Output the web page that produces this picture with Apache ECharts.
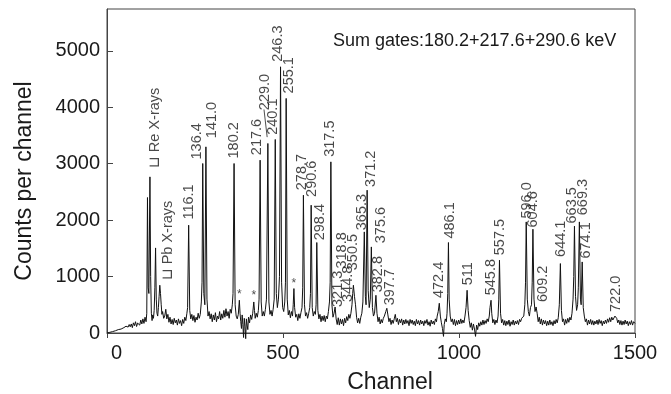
<!DOCTYPE html>
<html>
<head>
<meta charset="utf-8">
<script src="https://cdn.jsdelivr.net/npm/echarts@6/dist/echarts.min.js"></script>
<style>
  html, body { margin: 0; padding: 0; background: #fff; }
  #chart { width: 671px; height: 394px; }
</style>
</head>
<body>
<div id="chart"></div>
<script>
// spectrum: [channel, counts]
const spectrum = [
  [0,0],[4,5],[8,12],[12,8],[16,25],[20,20],[24,40],[28,35],[32,60],[36,45],[40,70],[44,55],[48,95],[51,70],
  [54,120],[57,85],[60,105],[63,150],[66,110],[69,160],[72,95],[75,180],[78,130],[81,200],[84,115],[87,175],
  [90,210],[93,140],[96,230],[99,160],[102,250],[105,170],[108,280],[111,200],
  [113,350],[115,2400],[117,800],[119,700],[122,2766],[124,1000],[126,350],[128,220],[130,320],[132,260],
  [134,400],[136,800],[138,1507],[140,600],[142,350],[144,300],[146,450],[148,650],[150,846],[152,700],[154,500],[156,330],
  [158,380],[161,260],[164,300],[167,420],[170,250],[173,330],[176,190],[179,280],[182,160],[185,240],[188,150],
  [191,260],[194,180],[197,230],[200,140],[203,250],[206,170],[209,220],[212,130],[215,240],[218,170],[221,280],[224,220],[227,350],
  [229,450],[232,1910],[235,400],[238,250],[241,330],[244,220],[247,310],[250,190],[253,280],[256,230],[259,350],[262,260],[265,330],[268,550],
  [270,900],[272,3003],[275,700],[278,500],[281,3298],[284,600],[287,300],[290,380],[293,250],[296,340],[299,200],[302,320],
  [305,230],[308,360],[311,200],[314,300],[317,250],[320,380],[323,230],[326,340],[329,260],[332,400],[335,280],[338,430],
  [341,300],[344,380],[347,260],[350,420],[353,350],[356,500],
  [358,700],[361,3003],[364,500],[367,300],[370,250],
  [373,330],[376,580],[378,350],[380,200],[382,80],[384,320],[386,150],[388,-80],[390,260],[392,120],[394,-100],[396,250],
  [398,140],[400,60],[402,280],[405,180],[408,320],[411,240],
  [414,350],[417,550],[419,400],[421,260],[424,350],[427,280],[430,400],
  [432,600],[435,3062],[438,550],[441,300],[444,380],[447,300],[450,420],[453,600],
  [457,3358],[460,550],[463,330],[466,400],[469,300],[472,420],[475,600],
  [478,3429],[481,700],[484,450],[487,600],
  [490,1000],[493,4716],[496,900],[499,450],[502,380],[505,550],
  [507,900],[509,4156],[512,600],[515,320],[518,400],[521,270],[524,380],[527,300],[529,500],
  [531,787],[533,450],[536,280],[539,330],[542,220],[545,340],[548,260],[551,360],[554,450],
  [556,800],[558,2441],[561,500],[564,300],[567,360],[570,260],[573,350],[576,450],[578,700],
  [580,2264],[583,450],[586,300],[589,380],[592,330],[594,500],
  [596,1603],[599,400],[602,250],[605,330],[608,200],[611,300],[614,220],[617,310],[620,200],[623,300],[626,250],[629,380],[632,550],[634,900],
  [636,3032],[639,500],[642,280],[645,350],
  [648,460],[651,250],[654,150],[657,270],[660,140],[663,250],[666,160],[669,240],[672,130],[675,260],[678,180],[681,290],
  [684,220],[687,330],[690,260],[693,350],[696,500],
  [698,700],[700,846],[703,650],[706,500],[709,280],[712,180],[715,260],[718,170],[721,280],[724,350],
  [727,550],[731,1791],[734,650],[736,500],
  [739,2530],[742,750],[745,450],[748,600],
  [751,1525],[754,450],[757,300],[760,350],
  [764,668],[767,350],[770,200],[773,280],[776,160],[779,240],[782,180],[785,260],[788,300],
  [792,380],[795,438],[798,320],[801,200],[804,260],[807,150],[810,230],[813,170],[816,250],[819,330],[822,200],[825,260],
  [828,150],[831,240],[834,180],[837,250],[840,140],[843,230],[846,160],[849,240],[852,170],[855,220],[858,130],[861,240],
  [864,170],[867,230],[870,150],[873,210],[876,130],[879,240],[882,160],[885,220],[888,140],[891,230],[894,160],[897,210],
  [900,130],[903,220],[906,170],[909,240],[912,140],[915,200],[918,120],[921,230],[924,160],[927,210],[930,150],[933,250],[936,200],
  [938,300],[941,380],[944,527],[947,300],[950,180],[953,80],[956,-60],[958,150],[961,250],[964,200],
  [966,350],[968,700],[970,1603],[972,600],[975,300],[978,200],[981,250],[984,150],[987,240],[990,130],[993,220],[996,150],
  [999,230],[1002,160],[1005,250],[1008,170],[1011,230],[1014,180],[1017,300],
  [1020,450],[1023,757],[1026,400],[1029,220],[1032,100],[1035,180],[1038,50],[1041,160],[1044,70],[1047,-60],[1050,140],
  [1053,60],[1056,180],[1059,120],[1062,200],[1065,140],[1068,230],[1071,150],[1074,220],[1077,170],[1080,250],[1083,200],
  [1086,300],[1088,450],[1091,580],[1093,350],[1096,180],[1099,240],[1102,150],[1105,230],[1108,180],[1111,300],
  [1113,600],[1115,1289],[1118,350],[1121,180],[1124,240],[1127,140],[1130,220],[1133,130],[1136,210],[1139,150],[1142,230],
  [1145,120],[1148,200],[1151,150],[1154,230],[1157,140],[1160,210],[1163,160],[1166,220],[1169,150],[1172,240],[1175,200],
  [1178,260],[1181,230],[1184,300],[1187,500],
  [1189,900],[1191,1968],[1194,600],[1197,380],[1200,300],[1203,450],[1206,500],[1208,900],
  [1210,1839],[1213,600],[1216,380],
  [1219,461],[1222,350],[1225,200],[1228,280],[1231,160],[1234,250],[1237,140],[1240,230],[1243,160],[1246,220],[1249,130],
  [1252,210],[1255,140],[1258,230],[1261,150],[1264,200],[1267,130],[1270,220],[1273,160],[1276,240],[1279,180],[1282,270],[1285,500],
  [1288,1230],[1291,400],[1294,200],[1297,250],[1300,140],[1303,240],[1306,170],[1309,260],[1312,190],[1315,280],[1318,230],
  [1321,350],[1324,600],
  [1326,1000],[1328,1892],[1331,650],[1334,400],[1337,500],[1339,800],
  [1342,1968],[1345,600],[1347,500],
  [1350,1259],[1353,450],[1356,300],[1359,200],[1362,250],[1365,140],[1368,230],[1371,160],[1374,240],[1377,150],[1380,220],
  [1383,140],[1386,210],[1389,160],[1392,230],[1395,150],[1398,240],[1401,170],[1404,220],[1407,130],[1410,210],[1413,160],
  [1416,230],[1419,170],[1422,250],[1425,190],[1428,270],[1431,200],[1434,280],[1437,230],[1440,260],
  [1443,300],[1445,330],[1448,260],[1451,180],[1454,230],[1457,150],[1460,220],[1463,140],[1466,210],[1469,150],[1472,230],
  [1475,160],[1478,210],[1481,130],[1484,200],[1487,150],[1490,220],[1493,140],[1496,200],[1500,170]
];

// peak annotations: text start point (channel, counts)
const peakLabels = [
  '\u2294 Re X-rays', '\u2294 Pb X-rays', '116.1', '136.4', '141.0', '180.2', '217.6', '229.0',
  '240.1', '246.3', '255.1', '278.7', '290.6', '298.4', '317.5', '318.8', '321.3', '344.8',
  '350.5', '365.3', '371.2', '375.6', '382.8', '397.7', '472.4', '486.1', '511', '545.8',
  '557.5', '596.0', '604.6', '609.2', '644.1', '663.5', '669.3', '674.1', '722.0'
];
const peakLabelChannel = [
  136, 174, 232, 255, 298, 362, 426, 450,
  473, 487, 518, 555, 582, 604, 634, 667, 655, 686,
  700, 724, 750, 777, 771, 805, 944, 974, 1025, 1091,
  1117, 1193, 1211, 1238, 1290, 1322, 1353, 1362, 1447
];
const peakLabelCounts = [
  2920, 932, 2010, 3074, 3452, 3092, 3151, 3948,
  3511, 4805, 4245, 2530, 2411, 1643, 3121, 1142, 461, 550,
  1112, 1821, 2588, 1590, 721, 491, 620, 1674, 846, 668,
  1378, 2028, 1869, 550, 1348, 1940, 2087, 1319, 372
];
const starChannel = [376, 417, 531];
const starCounts = [681, 669, 875];
const leader229 = [[446, 3960], [455, 3470]];

const font = 'Liberation Sans, Arial, Helvetica, sans-serif';
const ink = '#1a1a1a';

const chart = echarts.init(document.getElementById('chart'));
const option = {
  animation: false,
  backgroundColor: '#fff',
  grid: {
    left: 107, right: 36, top: 9, bottom: 61,
    show: true, borderColor: '#444', borderWidth: 1,
  },
  xAxis: {
    type: 'value',
    min: 0,
    max: 1500,
    interval: 500,
    axisLine: { lineStyle: { color: '#444', width: 1 } },
    axisTick: { length: 5, lineStyle: { color: '#444' } },
    axisLabel: {
      color: ink, fontSize: 20, fontFamily: font, margin: 10, alignMinLabel: 'left',
      formatter: (v) => (v === 0 ? '{z|0}' : String(v)),
      rich: { z: { padding: [0, 0, 0, 4], fontSize: 20, fontFamily: font, color: ink } },
    },
    splitLine: { show: false },
  },
  yAxis: {
    type: 'value',
    min: 0,
    max: 5740,
    interval: 1000,
    axisLine: { show: true, lineStyle: { color: '#444', width: 1 } },
    axisTick: { show: true, inside: true, length: 6, lineStyle: { color: '#444' } },
    axisLabel: { color: ink, fontSize: 20, fontFamily: font, margin: 7, showMaxLabel: false, formatter: (v) => String(v) },
    splitLine: { show: false },
  },
  graphic: [
    {
      type: 'text', x: 25, y: 181, rotation: Math.PI / 2,
      style: { text: 'Counts per channel', fill: ink, font: '23px ' + font, align: 'center', verticalAlign: 'middle' },
    },
    {
      type: 'text', x: 390, y: 383,
      style: { text: 'Channel', fill: ink, font: '23px ' + font, align: 'center', verticalAlign: 'middle' },
    },
    {
      type: 'text', x: 333, y: 41,
      style: { text: 'Sum gates:180.2+217.6+290.6 keV', fill: ink, font: '18px ' + font, align: 'left', verticalAlign: 'middle' },
    },
  ],
  series: [
    {
      name: 'spectrum',
      type: 'line',
      data: spectrum,
      showSymbol: false,
      clip: false,
      lineStyle: { color: '#111', width: 1 },
      z: 3,
    },
    {
      name: 'peaks',
      type: 'scatter',
      symbolSize: 0,
      data: peakLabels.map((t, i) => ({ name: t, value: [peakLabelChannel[i], peakLabelCounts[i]] })),
      label: {
        show: true,
        formatter: '{b}',
        position: 'inside',
        rotate: 90,
        align: 'left',
        verticalAlign: 'middle',
        color: ink,
        fontSize: 14.5,
        fontFamily: font,
      },
      z: 4,
    },
    {
      name: 'stars',
      type: 'scatter',
      symbolSize: 0,
      data: starChannel.map((c, i) => [c, starCounts[i]]),
      label: { show: true, formatter: '*', position: 'inside', color: ink, fontSize: 12, fontFamily: font },
      z: 4,
    },
    {
      name: 'leader',
      type: 'line',
      data: leader229,
      showSymbol: false,
      lineStyle: { color: '#222', width: 0.8 },
      z: 4,
    },
  ],
};
chart.setOption(option);
</script>
</body>
</html>
